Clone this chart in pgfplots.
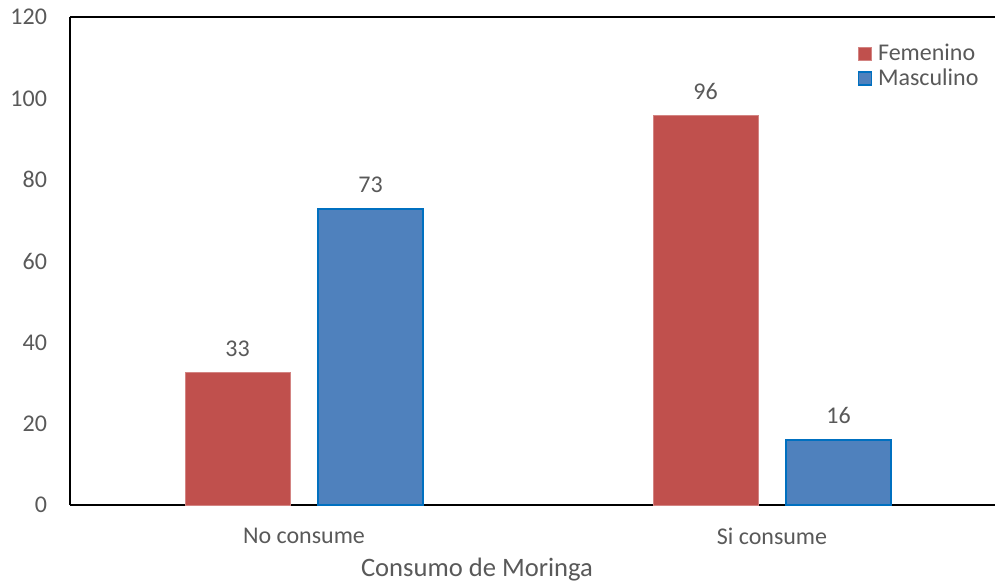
\documentclass[border=0pt]{standalone}
\usepackage{pgfplots}
\pgfplotsset{compat=1.18}
\usepackage{fontspec}
\setmainfont{Carlito}
\definecolor{fem}{HTML}{C0504D}
\definecolor{mas}{HTML}{4F81BD}
\definecolor{masedge}{HTML}{0070C0}
\definecolor{txt}{HTML}{595959}
\begin{document}
\begin{tikzpicture}
\begin{axis}[name=ax, scale only axis, width=462.5pt, height=244pt,
  xmin=-0.5, xmax=1.4765, ymin=0, ymax=120, ytick={0,20,...,120},
  xtick={0,1}, xticklabels={No consume, Si consume},
  axis x line*=bottom, axis y line*=left,
  axis line style={line width=1pt, black, -},
  major tick length=0pt,
  font=\fontsize{12pt}{14.4pt}\selectfont,
  tick label style={text=txt, font=\fontsize{12pt}{14.4pt}\selectfont},
  /pgf/number format/assume math mode=true,
  yticklabel style={xshift=-8pt},
  xticklabel style={yshift=-8pt},
  xlabel={Consumo de Moringa},
  xlabel style={at={(rel axis cs:0.44,0)}, anchor=north, yshift=-23pt, text=txt, font=\fontsize{13.3pt}{16pt}\selectfont},
  ybar, bar width=52.5pt,
  nodes near coords={\pgfmathprintnumber[fixed,precision=0]{\pgfplotspointmeta}},
  every node near coord/.append style={text=txt, anchor=south, yshift=4.5pt, font=\fontsize{12pt}{14.4pt}\selectfont},
  legend style={at={(rel axis cs:0.851,1)}, anchor=north west, yshift=-11.5pt, draw=none, fill=none,
    inner sep=0pt, row sep=-1.5pt, font=\fontsize{12pt}{14.4pt}\selectfont, text=txt,
    nodes={inner xsep=3pt, inner ysep=2pt}},
  legend cell align=left,
  legend image code/.code={\draw[#1] (0pt,-3.25pt) rectangle (6.5pt,3.25pt);},
  extra description/.code={\draw[line width=1pt] (rel axis cs:0,1) -- (rel axis cs:1,1);},
]
\addplot[fill=fem, draw=fem!70!white, line width=0.5pt, bar shift=-33.25pt] coordinates {(0,32.6) (1,95.8)};
\addplot[fill=mas, draw=masedge, line width=0.75pt, bar shift=33.25pt] coordinates {(0,72.8) (1,16.0)};
\legend{Femenino, Masculino}
\end{axis}
\pgfresetboundingbox
\path ([xshift=-35pt,yshift=-39.5pt]ax.south west) rectangle ([yshift=8.5pt]ax.north east);
\end{tikzpicture}
\end{document}
